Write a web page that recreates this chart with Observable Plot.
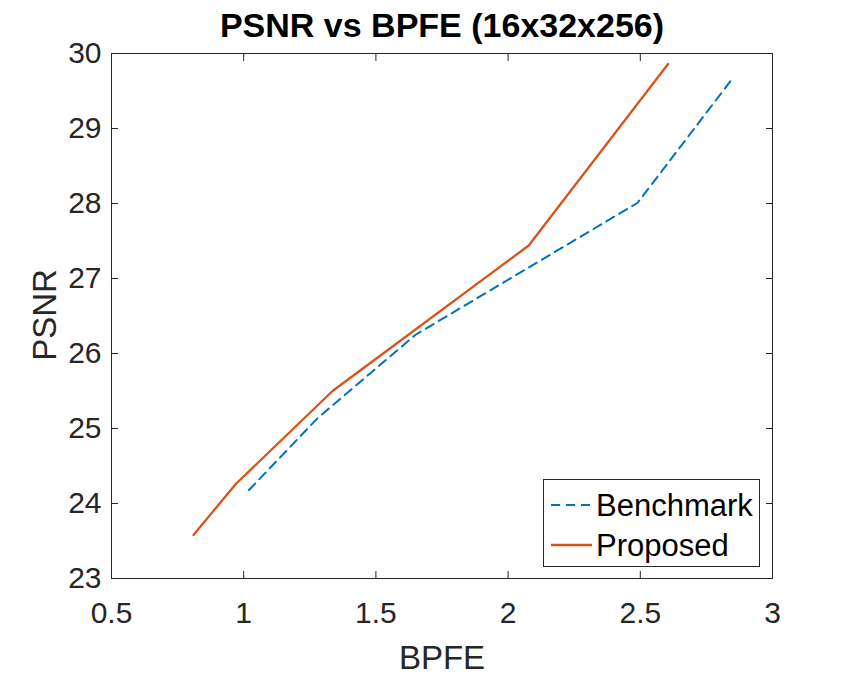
<!DOCTYPE html>
<html>
<head>
<meta charset="utf-8">
<script src="https://cdn.jsdelivr.net/npm/d3@7"></script>
<script src="https://cdn.jsdelivr.net/npm/@observablehq/plot@0.6"></script>
<style>
  body { margin: 0; background: #fff; }
  #fig { position: relative; width: 854px; height: 675px; font-family: "Liberation Sans", Arial, sans-serif; }
  #fig svg { display: block; }
  .ylabel { position: absolute; left: 44px; top: 315px; transform: translate(-50%, -50%) rotate(-90deg);
            font-size: 33px; color: #262626; white-space: nowrap; line-height: 1; }
  .legend { position: absolute; left: 543px; top: 479px; width: 217px; height: 88px; box-sizing: border-box;
            border: 1px solid #262626; background: #fff; }
  .legend .row { position: absolute; left: 0; height: 40px; display: flex; align-items: center; }
  .legend .row svg { margin-left: 7px; margin-right: 4px; }
  .legend .row span { font-size: 31px; color: #000; line-height: 1; }
</style>
</head>
<body>
<div id="fig"></div>
<script>
// ---- data ----
const seriesNames = ["Benchmark", "Proposed"];
const seriesColors = ["#0072BD", "#D95319"];
const benchmarkBPFE = [1.02, 1.28, 1.65, 2.49, 2.845];
const benchmarkPSNR = [24.18, 25.14, 26.25, 28.01, 29.65];
const proposedBPFE = [0.81, 0.97, 1.336, 2.078, 2.605];
const proposedPSNR = [23.58, 24.26, 25.50, 27.44, 29.86];
const xTicks = [0.5, 1, 1.5, 2, 2.5, 3];
const yTicks = [23, 24, 25, 26, 27, 28, 29, 30];
const titleText = "PSNR vs BPFE (16x32x256)";
const xLabel = "BPFE";
const yLabel = "PSNR";

const benchmark = benchmarkBPFE.map((x, i) => ({x, y: benchmarkPSNR[i]}));
const proposed = proposedBPFE.map((x, i) => ({x, y: proposedPSNR[i]}));

const axisColor = "#262626";
const fmt = d => String(d);

const chart = Plot.plot({
  width: 854,
  height: 675,
  marginLeft: 111,
  marginRight: 82,
  marginTop: 53,
  marginBottom: 97,
  style: { fontFamily: "Liberation Sans, Arial, sans-serif", background: "#fff", color: axisColor },
  x: { domain: [0.5, 3] },
  y: { domain: [23, 30] },
  marks: [
    Plot.frame({ stroke: axisColor, strokeWidth: 1 }),
    // inward ticks on all four sides
    Plot.axisX(xTicks, { anchor: "bottom", tickSize: -7, text: null, label: null, stroke: axisColor }),
    Plot.axisX(xTicks, { anchor: "top", tickSize: -7, text: null, label: null, stroke: axisColor }),
    Plot.axisY(yTicks, { anchor: "left", tickSize: -7, text: null, label: null, stroke: axisColor }),
    Plot.axisY(yTicks, { anchor: "right", tickSize: -7, text: null, label: null, stroke: axisColor }),
    // tick labels
    Plot.axisX(xTicks, { anchor: "bottom", tickSize: 0, tickPadding: 23, tickFormat: fmt, label: null, fontSize: 30, fill: axisColor }),
    Plot.axisY(yTicks, { anchor: "left", tickSize: 0, tickPadding: 10, tickFormat: fmt, label: null, fontSize: 30, fill: axisColor }),
    // series
    Plot.line(benchmark, { x: "x", y: "y", stroke: seriesColors[0], strokeWidth: 2, strokeDasharray: "9,6" }),
    Plot.line(proposed, { x: "x", y: "y", stroke: seriesColors[1], strokeWidth: 2.3 }),
    // title & x label
    Plot.text([titleText], { frameAnchor: "top", dy: -17, lineAnchor: "bottom", fontSize: 34, fontWeight: "bold", fill: "#000" }),
    Plot.text([xLabel], { frameAnchor: "bottom", dy: 90, lineAnchor: "bottom", fontSize: 33, fill: axisColor })
  ]
});

const fig = document.getElementById("fig");
fig.appendChild(chart);

// y label
const yl = document.createElement("div");
yl.className = "ylabel";
yl.textContent = yLabel;
fig.appendChild(yl);

// legend
const legend = document.createElement("div");
legend.className = "legend";
seriesNames.forEach((name, i) => {
  const row = document.createElement("div");
  row.className = "row";
  row.style.top = (i === 0 ? 5 : 45) + "px";
  const dash = i === 0 ? 'stroke-dasharray="9,6"' : "";
  row.innerHTML = `<svg width="41" height="10"><line x1="0" y1="5" x2="41" y2="5" stroke="${seriesColors[i]}" stroke-width="${i === 0 ? 2 : 2.3}" ${dash}/></svg><span>${name}</span>`;
  legend.appendChild(row);
});
fig.appendChild(legend);
</script>
</body>
</html>
